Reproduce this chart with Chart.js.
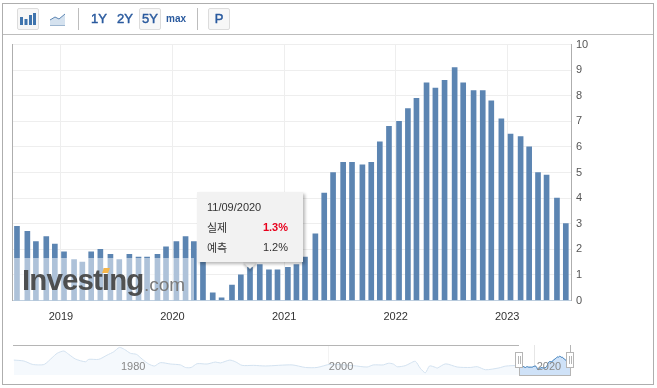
<!DOCTYPE html>
<html lang="ko"><head><meta charset="utf-8">
<script src="https://cdn.jsdelivr.net/npm/chart.js@4"></script>
<style>
html,body{margin:0;padding:0;background:#fff;width:657px;height:388px;overflow:hidden;font-family:"Liberation Sans",Arial,sans-serif}
.a{position:absolute;box-sizing:border-box}
#main{position:absolute;left:0;top:0}
#nav{position:absolute;left:13px;top:345px}
.btn{border:1px solid #dcdcdc;border-radius:2px;background:#f7f7f7}
.t{color:#2a5a9e;font-size:13px;line-height:16px;text-align:center;-webkit-text-stroke:.45px #2a5a9e}
.sep{width:1px;background:#bdbdbd;top:8px;height:22px}
.tip{left:197px;top:192px;width:106px;height:70px;background:#f2f2f2;box-shadow:2px 2px 3px rgba(0,0,0,.28);font-size:11px;color:#333}
.arrow{left:245px;top:257px;width:10px;height:10px;background:#f2f2f2;transform:rotate(45deg);box-shadow:2px 2px 2px rgba(0,0,0,.18)}
.tx{white-space:nowrap;line-height:14px}
.ko{font-family:"Noto Sans CJK KR","Noto Sans",sans-serif}
.wm{left:14px;top:258px;width:180px;height:42px;background:rgba(255,255,255,.5)}
.logo{left:22px;top:263px;font-size:29.5px;font-weight:bold;color:#454545;letter-spacing:-.9px;line-height:34px;white-space:nowrap;opacity:.93}
.com{left:144px;top:273px;font-size:19px;color:#7a7a7a;line-height:24px;white-space:nowrap}
.dot{left:103px;top:268px;width:6px;height:5px;background:#f6b64a;transform:skewX(-20deg)}
.handle{width:8px;height:16px;top:352px;background:#fff;border:1px solid #b5b5b5}
.handle i{position:absolute;top:3px;height:8px;width:1px;background:#b5b5b5}
</style></head><body>
<canvas id="main" width="657" height="388"></canvas>
<canvas id="nav" width="558" height="30"></canvas>

<div class="a" style="left:2px;top:3px;width:652px;height:382px;border:1px solid #aeaeae"></div>
<div class="a" style="left:3px;top:34px;width:650px;height:1px;background:#bdbdbd"></div>
<div class="a" style="left:12px;top:44px;width:1px;height:257px;background:#aeaeae"></div>

<div class="a btn" style="left:17px;top:8px;width:22px;height:22px"></div>
<svg class="a" style="left:20px;top:13px" width="16" height="12"><g fill="#3f74ad"><rect x="0" y="4" width="3" height="8"/><rect x="4.5" y="6" width="3" height="6"/><rect x="9" y="2" width="3" height="10"/><rect x="13" y="0" width="3" height="12"/></g></svg>
<svg class="a" style="left:49px;top:13px" width="17" height="13"><path d="M1 7 L6 4 L10 6 L16 1 L16 12 L1 12Z" fill="#d5e2ef"/><path d="M1 7 L6 4 L10 6 L16 1" fill="none" stroke="#5c85b2"/><path d="M1 12.5 H16" stroke="#9db6d0"/></svg>
<div class="a sep" style="left:78px"></div>
<div class="a t" style="left:89px;top:11px;width:20px">1Y</div>
<div class="a t" style="left:115px;top:11px;width:20px">2Y</div>
<div class="a btn" style="left:139px;top:8px;width:22px;height:22px"></div>
<div class="a t" style="left:140px;top:11px;width:20px">5Y</div>
<div class="a t" style="left:164px;top:11px;width:24px;font-size:10px;font-weight:bold;-webkit-text-stroke:0">max</div>
<div class="a sep" style="left:197px"></div>
<div class="a btn" style="left:208px;top:8px;width:22px;height:22px"></div>
<div class="a t" style="left:209px;top:11px;width:20px">P</div>

<div class="a wm"></div>
<div class="a logo">Investing</div>
<div class="a com">.com</div>
<div class="a dot"></div>

<div class="a arrow"></div>
<div class="a tip"></div>
<div class="a tx" style="left:207px;top:200px;font-size:11px;color:#333">11/09/2020</div>
<div class="a tx ko" style="left:207px;top:220px;font-size:11px;color:#333">실제</div>
<div class="a tx" style="left:240px;top:220px;width:48px;text-align:right;font-size:11px;font-weight:bold;color:#e8001c">1.3%</div>
<div class="a tx ko" style="left:207px;top:240px;font-size:11px;color:#333">예측</div>
<div class="a tx" style="left:240px;top:240px;width:48px;text-align:right;font-size:11px;color:#333">1.2%</div>

<div class="a" style="left:13px;top:345px;width:506px;height:1px;background:#b5b5b5"></div>
<div class="a" style="left:519px;top:367px;width:1px;height:9px;background:#b5b5b5"></div>
<div class="a" style="left:519px;top:375px;width:52px;height:1px;background:#b5b5b5"></div>
<div class="a" style="left:570px;top:345px;width:1px;height:31px;background:#b5b5b5"></div>
<div class="a handle" style="left:515px"><i style="left:2px"></i><i style="left:4px"></i></div>
<div class="a handle" style="left:566px"><i style="left:2px"></i><i style="left:4px"></i></div>

<script>
// Headline rate by release date
const releaseDates = [
 '2018-08-10','2018-09-13','2018-10-11','2018-11-14','2018-12-12',
 '2019-01-11','2019-02-13','2019-03-12','2019-04-10','2019-05-10','2019-06-12','2019-07-11','2019-08-13','2019-09-12','2019-10-10','2019-11-13','2019-12-11',
 '2020-01-14','2020-02-13','2020-03-11','2020-04-10','2020-05-12','2020-06-10','2020-07-14','2020-08-12','2020-09-11','2020-10-13','2020-11-12','2020-12-10',
 '2021-01-13','2021-02-10','2021-03-10','2021-04-13','2021-05-12','2021-06-10','2021-07-13','2021-08-11','2021-09-14','2021-10-13','2021-11-10','2021-12-10',
 '2022-01-12','2022-02-10','2022-03-10','2022-04-12','2022-05-11','2022-06-10','2022-07-13','2022-08-10','2022-09-13','2022-10-13','2022-11-10','2022-12-13',
 '2023-01-12','2023-02-14','2023-03-14','2023-04-12','2023-05-10','2023-06-13','2023-07-12'];
const actualValues = [
 2.9,2.7,2.3,2.5,2.2,
 1.9,1.6,1.5,1.9,2.0,1.8,1.6,1.8,1.7,1.7,1.8,2.1,
 2.3,2.5,2.3,1.5,0.3,0.1,0.6,1.0,1.3,1.4,1.2,1.2,
 1.3,1.4,1.7,2.6,4.2,5.0,5.4,5.4,5.3,5.4,6.2,6.8,
 7.0,7.5,7.9,8.5,8.3,8.6,9.1,8.5,8.2,8.2,7.8,7.1,
 6.5,6.4,6.0,5.0,4.9,4.0,3.0];
const yearTicks = [2019,2020,2021,2022,2023];
const rateTicks = [0,1,2,3,4,5,6,7,8,9,10];

// Long-range overview line, as read from the navigator strip
const historyYears = [1969.48,1970.45,1971.26,1971.9,1972.46,1973.2,1973.69,1974.33,1974.82,1975.47,1976.44,1976.76,1977.73,1978.54,1979.18,1979.74,1980.22,1980.81,1981.39,1981.94,1982.58,1983.14,1983.72,1984.69,1985.66,1986.15,1986.7,1987.28,1988.25,1989.06,1989.54,1990.45,1991,1991.65,1992.78,1993.91,1996.5,1997.8,1998.93,2000.22,2002.46,2003.79,2004.4,2005.37,2005.85,2006.34,2006.73,2007.5,2007.99,2008.48,2008.96,2009.45,2009.86,2010.42,2010.61,2011.42,2012.55,2013.82,2014.5,2015.3,2016.6,2017.24,2018.5];
const historyValues = [6.4,5.8,3.6,3.2,3.6,8,10.9,12.4,10.2,7.1,5.3,6.9,6.9,9.7,11.9,14.8,13.5,10.9,10.2,7.1,3.8,2.5,4.7,3.8,3.2,1.5,1.5,4,3.8,5.1,4.5,6.4,5.3,2.9,2.9,2.5,3.2,1.5,1.5,3.6,2.7,1.8,3.2,3.2,4.3,3.8,2,2.7,4.3,5.6,1,-2,2.5,1.6,1.1,3.9,1.8,1.5,2,0,1.2,2.4,2.9];
const navYearLabels = [1980,2000,2020];

Chart.defaults.font.family = '"Liberation Sans",Arial,sans-serif';
Chart.defaults.font.size = 11;
const ms = s => Date.parse(s + 'T00:00:00Z');

new Chart(document.getElementById('main'), {
  type: 'bar',
  data: { datasets: [{
    data: releaseDates.map((d,i)=>({x:ms(d),y:actualValues[i]})),
    backgroundColor:'#5c85b2', barThickness:5, borderWidth:0
  }]},
  options:{
    responsive:false, animation:false, events:[],
    layout:{padding:{left:13,top:44.5,right:46,bottom:57.5}},
    plugins:{legend:{display:false},tooltip:{enabled:false}},
    scales:{
      x:{type:'linear',offset:false,min:ms('2018-07-28'),max:ms('2023-07-29'),
        afterFit:s=>{s.height=30},
        afterBuildTicks:s=>{s.ticks=yearTicks.map(y=>({value:Date.UTC(y,0,1)}))},
        grid:{color:'#eeeeee',offset:false,drawTicks:false},
        border:{color:'#c0d0e0'},
        ticks:{autoSkip:false,maxRotation:0,padding:10,color:'#333',callback:v=>String(new Date(v).getUTCFullYear())}},
      y:{position:'right',min:0,max:10,
        afterFit:s=>{s.width=40},
        afterBuildTicks:s=>{s.ticks=rateTicks.map(v=>({value:v}))},
        grid:{color:'#eeeeee',drawTicks:false},
        border:{color:'#aeaeae'},
        ticks:{padding:5,color:'#555'}}
    }
  }
});

const selStart = 2018.6;
const toYear = d => 1970 + ms(d)/(365.25*864e5);
const navPoints = historyYears.map((y,i)=>({x:y,y:historyValues[i]}))
  .concat(releaseDates.map((d,i)=>({x:toYear(d),y:actualValues[i]})));
const navDecor = {
  id:'navDecor',
  beforeDatasetsDraw(c){
    const g=c.ctx, sx=c.scales.x, a=c.chartArea;
    g.save(); g.lineWidth=1;
    navYearLabels.slice(1).forEach((y,i)=>{g.strokeStyle=i?'#e6e6e6':'#f3f3f3';const p=Math.round(sx.getPixelForValue(y))+.5;g.beginPath();g.moveTo(p,a.top);g.lineTo(p,a.bottom);g.stroke();});
    g.restore();
  },
  afterDatasetsDraw(c){
    const g=c.ctx, sx=c.scales.x;
    g.save(); g.font='11px "Liberation Sans",Arial,sans-serif'; g.fillStyle='#888'; g.textAlign='center'; g.textBaseline='middle';
    navYearLabels.forEach((y,i)=>g.fillText(String(y),sx.getPixelForValue(y)+11+2*i,22));
    g.restore();
  }
};
new Chart(document.getElementById('nav'), {
  type:'line',
  data:{datasets:[{
    data:navPoints, pointRadius:0, borderWidth:1, tension:.25, fill:'start',
    borderColor:'#d3e2f0', backgroundColor:'#f5f9fd',
    segment:{
      borderColor:c=>c.p0.parsed.x>=selStart?'#2f74b5':'#d3e2f0',
      backgroundColor:c=>c.p0.parsed.x>=selStart?'#cfe2f8':'#f5f9fd'
    }
  }]},
  options:{
    responsive:false, animation:false, events:[],
    layout:{padding:0},
    plugins:{legend:{display:false},tooltip:{enabled:false}},
    scales:{
      x:{type:'linear',display:false,min:1969.4,max:2023.6},
      y:{display:false,min:-3.5,max:16.4}
    }
  },
  plugins:[navDecor]
});
</script>
</body></html>
